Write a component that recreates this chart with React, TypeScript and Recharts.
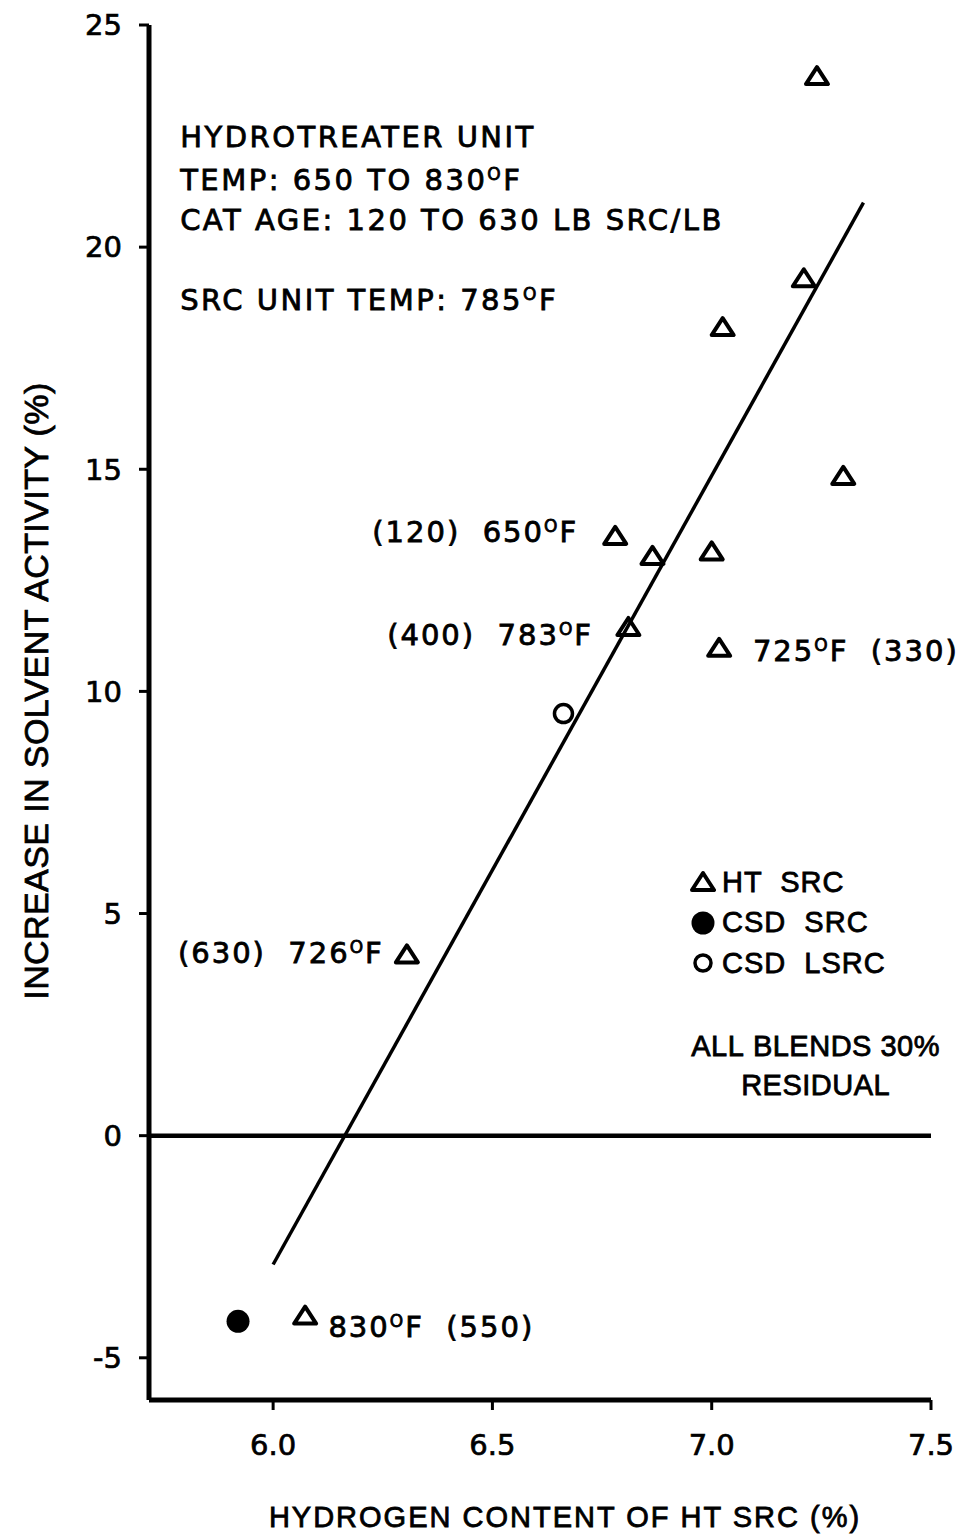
import React from "react";
import {
  Legend,
  ReferenceDot,
  ReferenceLine,
  Scatter,
  ScatterChart,
  XAxis,
  YAxis,
} from "recharts";

const INK = "#000";
const SANS = "'Liberation Sans', Arial, sans-serif";
const WIDE = "'DejaVu Sans', Verdana, sans-serif";

// hydrogen content of HT SRC (%) vs increase in solvent activity (%)
const htHydrogen = [7.24, 7.21, 7.025, 7.3, 6.78, 6.865, 7.0, 6.81, 7.017, 6.305, 6.073];
const htActivity = [23.85, 19.3, 18.2, 14.85, 13.5, 13.05, 13.15, 11.45, 10.98, 4.08, -4.05];
const csdHydrogen = [5.92];
const csdActivity = [-4.18];
const lsrcHydrogen = [6.662];
const lsrcActivity = [9.5];

// least-squares fit through the HT SRC points
const fitHydrogen = [6.0, 7.346];
const fitActivity = [-2.9, 21.0];

const xTicks = [6.0, 6.5, 7.0, 7.5];
const yTicks = [-5, 0, 5, 10, 15, 20, 25];
const xDomain = [5.717, 7.5];
const yDomain = [-5.95, 25];

const seriesNames = ["HT SRC", "CSD SRC", "CSD LSRC"];

const headerLines = [
  "HYDROTREATER UNIT",
  "TEMP: 650 TO 830°F",
  "CAT AGE: 120 TO 630 LB SRC/LB",
  "SRC UNIT TEMP: 785°F",
];
const headerLevels = [22.48, 21.53, 20.63, 18.83];
const headerLeft = 5.788;

// run conditions: (cat age) temperature
const pointNotes = [
  "(120)  650°F",
  "(400)  783°F",
  "725°F  (330)",
  "(630)  726°F",
  "830°F  (550)",
];
const pointNoteX = [6.226, 6.26, 7.094, 5.783, 6.126];
const pointNoteY = [13.6, 11.28, 10.92, 4.12, -4.3];

const blendNotes = ["ALL BLENDS 30%", "RESIDUAL"];
const blendNoteX = 7.237;
const blendNoteY = [2.03, 1.15];

const toPoints = (xs: number[], ys: number[]) => xs.map((x, i) => ({ x, y: ys[i] }));

// text with a raised "O" standing in for the degree sign
function Rich({ text, size }: { text: string; size: number }) {
  const parts = text.replace(/ /g, "\u00a0").split("°");
  const sup = Math.round(size * 0.58);
  const lift = Math.round(size * 0.36);
  return (
    <>
      {parts.map((p, i) =>
        i === 0 ? (
          <tspan key={i}>{p}</tspan>
        ) : (
          <React.Fragment key={i}>
            <tspan fontSize={sup} dy={-lift}>O</tspan>
            <tspan dy={lift}>{p}</tspan>
          </React.Fragment>
        )
      )}
    </>
  );
}

const noteShape =
  (text: string, font: string, size: number, spacing: number, anchor: "start" | "middle" = "start") =>
  (p: any) => (
    <text
      x={p.cx}
      y={p.cy + size * 0.36}
      fontFamily={font}
      fontSize={size}
      letterSpacing={spacing}
      fill={INK}
      stroke={INK}
      strokeWidth={0.8}
      textAnchor={anchor}
    >
      <Rich text={text} size={size} />
    </text>
  );

const Triangle = (p: any) => (
  <polygon
    points={`${p.cx},${p.cy - 9} ${p.cx + 11},${p.cy + 8} ${p.cx - 11},${p.cy + 8}`}
    fill="none"
    stroke={INK}
    strokeWidth={4}
    strokeLinejoin="round"
  />
);
const Dot = (p: any) => <circle cx={p.cx} cy={p.cy} r={11.5} fill={INK} />;
const Ring = (p: any) => (
  <circle cx={p.cx} cy={p.cy} r={9} fill="none" stroke={INK} strokeWidth={3.5} />
);

const legendIcon: Record<string, (p: any) => React.ReactElement> = {
  "HT SRC": Triangle,
  "CSD SRC": Dot,
  "CSD LSRC": (p: any) => <circle cx={p.cx} cy={p.cy} r={8} fill="none" stroke={INK} strokeWidth={3.5} />,
};

function LegendBox({ payload }: any) {
  const items = [...(payload || [])].sort(
    (a: any, b: any) => seriesNames.indexOf(a.value) - seriesNames.indexOf(b.value)
  );
  return (
    <div>
      {items.map((it: any) => (
        <div key={it.value} style={{ display: "flex", alignItems: "center", height: 40.5 }}>
          <svg width={26} height={26} style={{ display: "block" }}>
            {legendIcon[it.value]({ cx: 13, cy: 13 })}
          </svg>
          <span
            style={{
              marginLeft: 6,
              fontFamily: SANS,
              fontSize: 29,
              letterSpacing: 1,
              color: INK,
              WebkitTextStroke: "0.8px #000",
              whiteSpace: "pre",
            }}
          >
            {String(it.value).replace(" ", "  ")}
          </span>
        </div>
      ))}
    </div>
  );
}

const tickStyle = { fill: INK, fontSize: 29, fontFamily: WIDE, stroke: INK, strokeWidth: 0.7 };

export default function App() {
  const ht = toPoints(htHydrogen, htActivity);
  const csd = toPoints(csdHydrogen, csdActivity);
  const lsrc = toPoints(lsrcHydrogen, lsrcActivity);

  return (
    <div style={{ position: "absolute", left: 0, top: 0, background: "#fff" }}>
      <ScatterChart width={967} height={1535} margin={{ top: 25, right: 36, bottom: 0, left: 0 }}>
        <XAxis
          type="number"
          dataKey="x"
          domain={xDomain}
          ticks={xTicks}
          tickFormatter={(v: number) => v.toFixed(1)}
          height={135}
          tickSize={10}
          tickMargin={24}
          axisLine={{ stroke: INK, strokeWidth: 5 }}
          tickLine={{ stroke: INK, strokeWidth: 3 }}
          tick={tickStyle}
          label={{
            content: (props: any) => {
              const vb = props.viewBox || { x: 149, y: 1400, width: 782, height: 135 };
              return (
                <text
                  x={vb.x + vb.width / 2 + 25}
                  y={vb.y + vb.height - 8}
                  textAnchor="middle"
                  fontFamily={SANS}
                  fontSize={29}
                  letterSpacing={2}
                  fill={INK}
                  stroke={INK}
                  strokeWidth={0.8}
                >
                  HYDROGEN CONTENT OF HT SRC (%)
                </text>
              );
            },
          }}
        />
        <YAxis
          type="number"
          dataKey="y"
          domain={yDomain}
          ticks={yTicks}
          width={149}
          tickSize={10}
          tickMargin={17}
          axisLine={{ stroke: INK, strokeWidth: 5 }}
          tickLine={{ stroke: INK, strokeWidth: 3 }}
          tick={tickStyle}
          label={{
            content: () => (
              <text
                transform="translate(36, 691) rotate(-90)"
                textAnchor="middle"
                dominantBaseline="central"
                fontFamily={SANS}
                fontSize={34}
                letterSpacing={0.4}
                fill={INK}
                stroke={INK}
                strokeWidth={0.8}
              >
                INCREASE IN SOLVENT ACTIVITY (%)
              </text>
            ),
          }}
        />

        <ReferenceLine y={0} stroke={INK} strokeWidth={4.5} />
        <ReferenceLine
          segment={[
            { x: fitHydrogen[0], y: fitActivity[0] },
            { x: fitHydrogen[1], y: fitActivity[1] },
          ]}
          stroke={INK}
          strokeWidth={3.5}
        />

        <Scatter name={seriesNames[0]} data={ht} shape={Triangle} isAnimationActive={false} />
        <Scatter name={seriesNames[1]} data={csd} shape={Dot} isAnimationActive={false} />
        <Scatter name={seriesNames[2]} data={lsrc} shape={Ring} isAnimationActive={false} />

        {headerLines.map((t, i) => (
          <ReferenceDot
            key={t}
            x={headerLeft}
            y={headerLevels[i]}
            r={0}
            shape={noteShape(t, WIDE, 29, 2.5)}
          />
        ))}
        {pointNotes.map((t, i) => (
          <ReferenceDot
            key={t}
            x={pointNoteX[i]}
            y={pointNoteY[i]}
            r={0}
            shape={noteShape(t, WIDE, 29, 2)}
          />
        ))}
        {blendNotes.map((t, i) => (
          <ReferenceDot
            key={t}
            x={blendNoteX}
            y={blendNoteY[i]}
            r={0}
            shape={noteShape(t, SANS, 29, 0.5, "middle")}
          />
        ))}

        <Legend
          layout="vertical"
          align="center"
          verticalAlign="middle"
          content={<LegendBox />}
          wrapperStyle={{ left: 690, top: 862, width: 260, height: "auto" }}
        />
      </ScatterChart>
    </div>
  );
}
